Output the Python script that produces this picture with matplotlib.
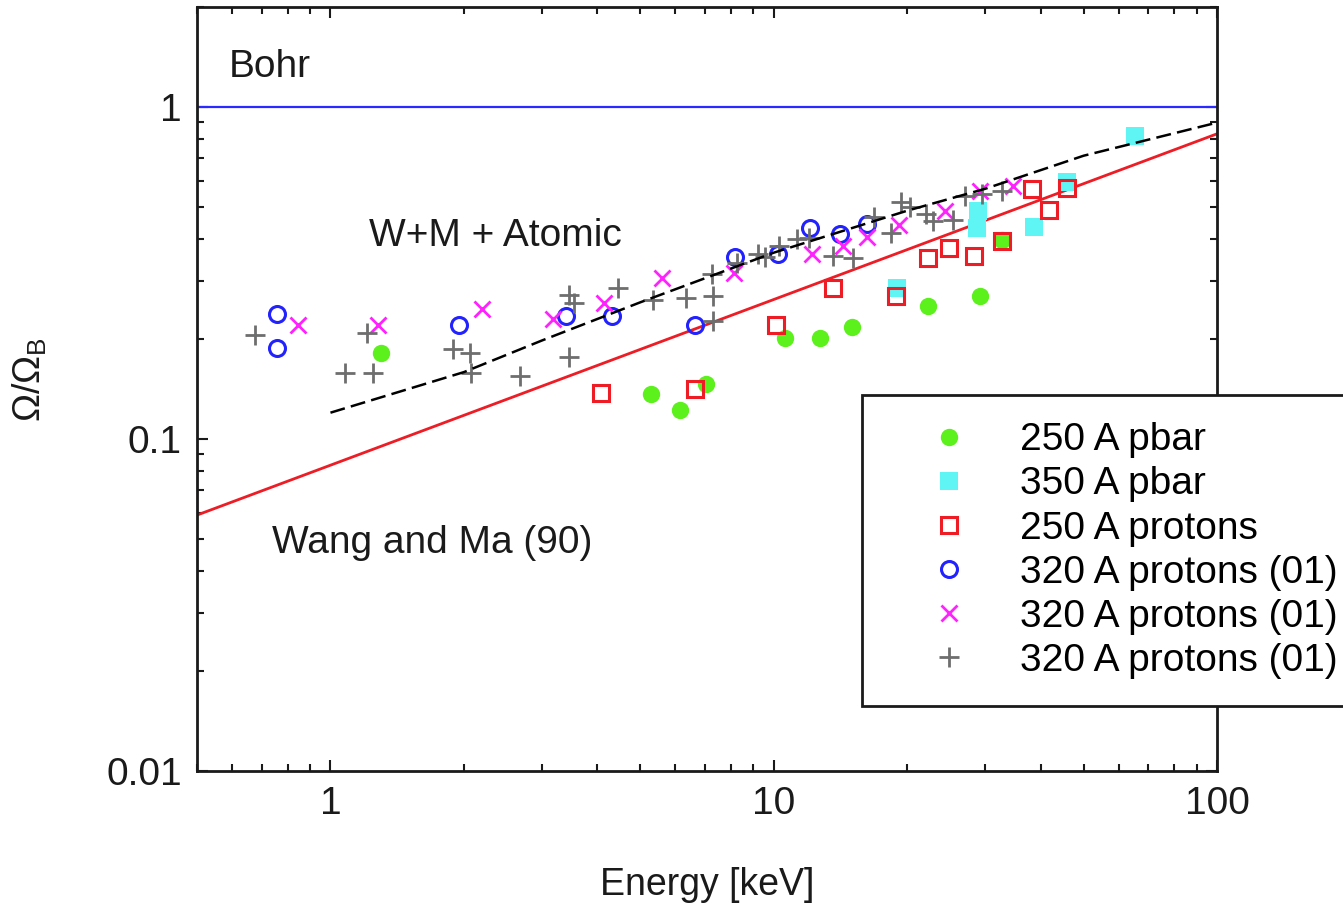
import matplotlib
matplotlib.use("Agg")
import matplotlib.pyplot as plt
from matplotlib.ticker import LogLocator, NullFormatter, FixedLocator, FixedFormatter

plt.rcParams["font.family"] = ["Liberation Sans", "DejaVu Sans"]
plt.rcParams["mathtext.fontset"] = "custom"
plt.rcParams["mathtext.rm"] = "Liberation Sans"

# 250 A pbar
e_250_pbar = [1.30, 5.29, 6.15, 7.04, 10.6, 12.7, 15.0, 22.3, 29.2, 32.7]
r_250_pbar = [0.182, 0.137, 0.122, 0.146, 0.202, 0.202, 0.218, 0.252, 0.270, 0.398]

# 350 A pbar
e_350_pbar = [19.0, 28.9, 28.8, 38.7, 45.9, 65.3]
r_350_pbar = [0.285, 0.487, 0.433, 0.436, 0.595, 0.818]

# 250 A protons
e_250_p = [4.08, 6.65, 10.1, 13.6, 18.9, 22.3, 24.9, 28.3, 32.7, 38.3, 41.8, 45.9]
r_250_p = [0.138, 0.141, 0.220, 0.285, 0.270, 0.351, 0.377, 0.356, 0.396, 0.567, 0.490, 0.571]

# 320 A protons (01), three sets
e_320_a = [0.756, 0.756, 1.95, 3.40, 4.32, 6.65, 8.19, 10.2, 12.1, 14.1, 16.2]
r_320_a = [0.238, 0.188, 0.220, 0.235, 0.235, 0.220, 0.354, 0.361, 0.433, 0.415, 0.445]

e_320_b = [0.847, 1.28, 2.20, 3.18, 4.13, 5.60, 8.15, 12.2, 14.3, 16.2, 19.2, 24.4, 29.2, 34.7]
r_320_b = [0.220, 0.221, 0.247, 0.230, 0.257, 0.306, 0.317, 0.361, 0.382, 0.407, 0.442,
           0.487, 0.559, 0.578]

e_320_c = [0.674, 1.08, 1.25, 1.21, 1.89, 2.06, 2.08, 2.68, 3.46, 3.55, 3.46, 4.46, 5.35,
           6.35, 7.27, 7.31, 7.31, 8.27, 9.23, 9.57, 10.3, 11.3, 12.0, 13.6, 15.1, 16.8,
           18.4, 19.4, 20.3, 22.0, 22.9, 25.4, 27.0, 29.5, 32.7]
r_320_c = [0.205, 0.158, 0.158, 0.208, 0.186, 0.182, 0.158, 0.155, 0.272, 0.256, 0.176,
           0.285, 0.263, 0.265, 0.315, 0.270, 0.227, 0.340, 0.361, 0.354, 0.382, 0.401,
           0.403, 0.356, 0.351, 0.467, 0.418, 0.518, 0.500, 0.477, 0.454, 0.457, 0.540,
           0.548, 0.559]

# theory curves
e_wm = [0.5, 100]
r_wm = [0.059, 0.83]
e_atomic = [1, 2, 3, 5, 10, 20, 30, 50, 100]
r_atomic = [0.120, 0.159, 0.198, 0.258, 0.364, 0.487, 0.567, 0.713, 0.897]
bohr = 1.0

FS = 28
INK = "#1a1a1a"

fig = plt.figure(figsize=(13.43, 9.09), dpi=100)
ax = fig.add_axes([0.1467, 0.1518, 0.7595, 0.8405])

ax.axhline(bohr, color="#2a2aff", lw=1.6, zorder=2)
ax.plot(e_wm, r_wm, color="#ee1c24", lw=2.0, zorder=2)
ax.plot(e_atomic, r_atomic, color="black", lw=1.8, dashes=[6, 2.5], zorder=5)

ax.plot(e_250_pbar, r_250_pbar, "o", color="#5cf01c", ms=12.5, mew=0, label="250 A pbar", zorder=3)
ax.plot(e_350_pbar, r_350_pbar, "s", color="#5ff5f5", ms=12.5, mew=0, label="350 A pbar", zorder=3)
ax.plot(e_250_p, r_250_p, "s", mfc="none", mec="#ee1c24", ms=12, mew=2.2,
        label="250 A protons", zorder=4)
ax.plot(e_320_a, r_320_a, "o", mfc="none", mec="#2222ff", ms=11.5, mew=2.2,
        label="320 A protons (01)", zorder=4)
ax.plot(e_320_b, r_320_b, "x", color="#ff22ff", ms=12, mew=2,
        label="320 A protons (01)", zorder=4)
ax.plot(e_320_c, r_320_c, "+", color="#6e6e6e", ms=15, mew=2,
        label="320 A protons (01)", zorder=4)

ax.set_xscale("log")
ax.set_yscale("log")
ax.set_xlim(0.5, 100)
ax.set_ylim(0.01, 2)

ax.xaxis.set_major_locator(FixedLocator([1, 10, 100]))
ax.xaxis.set_major_formatter(FixedFormatter(["1", "10", "100"]))
ax.yaxis.set_major_locator(FixedLocator([0.01, 0.1, 1]))
ax.yaxis.set_major_formatter(FixedFormatter(["0.01", "0.1", "1"]))
for axis in (ax.xaxis, ax.yaxis):
    axis.set_minor_locator(LogLocator(base=10, subs=range(2, 10), numticks=20))
    axis.set_minor_formatter(NullFormatter())

ax.tick_params(which="both", direction="in", top=True, right=True, width=1.5,
               labelsize=FS, colors=INK)
ax.tick_params(which="major", length=8, pad=11)
ax.tick_params(which="minor", length=5)
for s in ax.spines.values():
    s.set_linewidth(2)
    s.set_color(INK)

ax.text(0.589, 1.32, "Bohr", fontsize=FS, va="center", ha="left", color=INK)
ax.text(1.22, 0.409, "W+M + Atomic", fontsize=FS, va="center", ha="left", color=INK)
ax.text(0.740, 0.0485, "Wang and Ma (90)", fontsize=FS, va="center", ha="left", color=INK)

fig.text(707 / 1343, 1 - 885 / 909, "Energy [keV]", fontsize=27, ha="center", va="center",
         color=INK)
fig.text(30 / 1343, 1 - 380 / 909, r"$\mathregular{\Omega/\Omega_B}$", fontsize=27,
         rotation=90, ha="center", va="center", color=INK)

leg = fig.legend(loc="upper left", bbox_to_anchor=(862 / 1343, 1 - 395 / 909),
                 fontsize=FS, frameon=True, fancybox=False, edgecolor=INK, framealpha=1,
                 borderpad=0.7, labelspacing=0.21, handletextpad=0.3, handlelength=3.05,
                 borderaxespad=0)
leg.get_frame().set_linewidth(2)

fig.savefig("out.png", dpi=100)
